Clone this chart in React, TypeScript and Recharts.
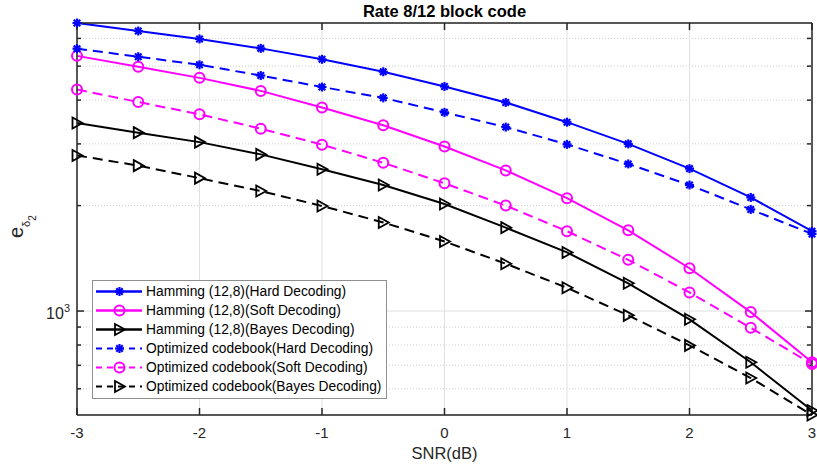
import React from 'react';
import { LineChart, Line, XAxis, YAxis, CartesianGrid, Legend, Label } from 'recharts';

// SNR grid (dB) and error values
const SNR = [-3, -2.5, -2, -1.5, -1, -0.5, 0, 0.5, 1, 1.5, 2, 2.5, 3];
const HAMMING_HARD = [6640, 6300, 5980, 5620, 5230, 4820, 4375, 3940, 3460, 3000, 2550, 2110, 1690];
const HAMMING_SOFT = [5350, 4980, 4630, 4250, 3810, 3390, 2950, 2520, 2100, 1700, 1325, 993, 714];
const HAMMING_BAYES = [3440, 3230, 3035, 2800, 2540, 2290, 2020, 1730, 1470, 1200, 947, 714, 520];
const OPT_HARD = [5610, 5320, 5045, 4700, 4360, 4060, 3690, 3350, 2990, 2630, 2290, 1950, 1660];
const OPT_SOFT = [4290, 3950, 3645, 3315, 2985, 2650, 2315, 2000, 1690, 1400, 1130, 896, 706];
const OPT_BAYES = [2780, 2600, 2395, 2200, 1995, 1790, 1580, 1365, 1165, 972, 798, 644, 505];

const X_TICKS = [-3, -2, -1, 0, 1, 2, 3];
const Y_MAJOR = [1000];
const Y_MINOR = [600, 700, 800, 900, 2000, 3000, 4000, 5000, 6000];
const Y_ALL = [600, 700, 800, 900, 1000, 2000, 3000, 4000, 5000, 6000];
const Y_DOMAIN = [505, 6640];

const AX = '#262626';
const FONT = '"Liberation Sans", Arial, Helvetica, sans-serif';

type MarkerKind = 'star' | 'circle' | 'tri';

const SERIES: { key: string; name: string; color: string; marker: MarkerKind; dashed: boolean; values: number[] }[] = [
  { key: 'hHard', name: 'Hamming (12,8)(Hard Decoding)', color: '#0000ff', marker: 'star', dashed: false, values: HAMMING_HARD },
  { key: 'hSoft', name: 'Hamming (12,8)(Soft Decoding)', color: '#ff00ff', marker: 'circle', dashed: false, values: HAMMING_SOFT },
  { key: 'hBayes', name: 'Hamming (12,8)(Bayes Decoding)', color: '#000000', marker: 'tri', dashed: false, values: HAMMING_BAYES },
  { key: 'oHard', name: 'Optimized codebook(Hard Decoding)', color: '#0000ff', marker: 'star', dashed: true, values: OPT_HARD },
  { key: 'oSoft', name: 'Optimized codebook(Soft Decoding)', color: '#ff00ff', marker: 'circle', dashed: true, values: OPT_SOFT },
  { key: 'oBayes', name: 'Optimized codebook(Bayes Decoding)', color: '#000000', marker: 'tri', dashed: true, values: OPT_BAYES },
];

const data = SNR.map((snr, i) => {
  const row: Record<string, number> = { snr };
  SERIES.forEach((s) => {
    row[s.key] = s.values[i];
  });
  return row;
});

function Marker({ kind, cx, cy, color }: { kind: MarkerKind; cx: number; cy: number; color: string }) {
  if (cx == null || cy == null) return null;
  if (kind === 'circle') {
    return <circle cx={cx} cy={cy} r={5} fill="none" stroke={color} strokeWidth={2} />;
  }
  if (kind === 'tri') {
    const pts = `${cx - 4.5},${cy - 5.5} ${cx + 5.5},${cy} ${cx - 4.5},${cy + 5.5}`;
    return <polygon points={pts} fill="none" stroke={color} strokeWidth={1.8} strokeLinejoin="miter" />;
  }
  const r = 4.5;
  const d = r * 0.72;
  return (
    <g stroke={color} strokeWidth={2.2} strokeLinecap="butt">
      <line x1={cx - r} y1={cy} x2={cx + r} y2={cy} />
      <line x1={cx} y1={cy - r} x2={cx} y2={cy + r} />
      <line x1={cx - d} y1={cy - d} x2={cx + d} y2={cy + d} />
      <line x1={cx - d} y1={cy + d} x2={cx + d} y2={cy - d} />
    </g>
  );
}

// left axis: inward tick marks (major longer than minor) plus the 10^3 label
function PowTick(props: any) {
  const { x, y, payload } = props;
  const major = Y_MAJOR.includes(payload.value);
  const ax = x + 7;
  return (
    <g>
      <line x1={ax} y1={y} x2={ax + (major ? 7 : 4)} y2={y} stroke={AX} strokeWidth={1.5} />
      {major && (
        <text x={x} y={y} dy={7.5} textAnchor="end" fontSize={16} fill={AX} fontFamily={FONT}>
          10
          <tspan dy={-7} fontSize={11}>3</tspan>
        </text>
      )}
    </g>
  );
}

function YTitle() {
  return (
    <text transform="translate(23,238) rotate(-90)" textAnchor="start" fill={AX} fontFamily={FONT} fontSize={20}>
      e
      <tspan dy={7} fontSize={11}>δ</tspan>
      <tspan dy={6} fontSize={10}>2</tspan>
    </text>
  );
}

function LegendBox() {
  return (
    <div
      style={{
        border: '1px solid #8f8f8f',
        background: '#fff',
        width: 293,
        height: 116,
        boxSizing: 'content-box',
        fontFamily: FONT,
        fontSize: 13.8,
        color: '#000',
        paddingTop: 1,
      }}
    >
      {SERIES.map((s) => (
        <div key={s.key} style={{ display: 'flex', alignItems: 'center', height: 19 }}>
          <svg width={53} height={19} style={{ display: 'block' }}>
            <line x1={3} y1={9.5} x2={49} y2={9.5} stroke={s.color} strokeWidth={s.dashed ? 2 : 2.6} strokeDasharray={s.dashed ? '6 5' : undefined} />
            <Marker kind={s.marker} cx={26.5} cy={9.5} color={s.color} />
          </svg>
          <span style={{ whiteSpace: 'nowrap' }}>{s.name}</span>
        </div>
      ))}
    </div>
  );
}

const hidden = () => null;
const tickStroke = { stroke: AX, strokeWidth: 1.5 };

export default function App() {
  return (
    <div style={{ position: 'absolute', left: 0, top: 0, width: 817, height: 469, background: '#fff' }}>
      <LineChart width={817} height={469} data={data} margin={{ top: 23, right: 5, bottom: 0, left: 0 }}>
        <CartesianGrid xAxisId="x" yAxisId="yMinR" vertical={false} stroke="#cdcdcd" strokeDasharray="1 2" />
        <CartesianGrid xAxisId="x" yAxisId="yMajR" stroke="#e0e0e0" />

        <XAxis xAxisId="x" dataKey="snr" type="number" domain={[-3, 3]} ticks={X_TICKS} interval={0} height={54} tickLine={false} tickSize={0} tickMargin={12} axisLine={tickStroke} tick={{ fill: AX, fontSize: 15, fontFamily: FONT }}>
          <Label value="SNR(dB)" position="insideBottom" offset={10} fill={AX} fontSize={16.5} fontFamily={FONT} />
        </XAxis>
        {/* inward tick marks along the bottom and the top edge of the box */}
        <XAxis xAxisId="xb" dataKey="snr" type="number" orientation="bottom" mirror height={1} domain={[-3, 3]} allowDataOverflow ticks={X_TICKS} interval={0} tick={hidden} axisLine={false} tickSize={7} tickLine={tickStroke} />
        <XAxis xAxisId="xt" dataKey="snr" type="number" orientation="top" mirror height={1} domain={[-3, 3]} allowDataOverflow ticks={X_TICKS} interval={0} tick={hidden} axisLine={tickStroke} tickSize={7} tickLine={tickStroke}>
          <Label value="Rate 8/12 block code" position="top" offset={6} fill="#000" fontSize={16.5} fontWeight="bold" fontFamily={FONT} />
        </XAxis>

        <YAxis yAxisId="y" type="number" scale="log" domain={Y_DOMAIN} ticks={Y_ALL} interval={0} width={77} tickLine={false} tickSize={0} tickMargin={7} axisLine={tickStroke} tick={<PowTick />}>
          <Label content={<YTitle />} />
        </YAxis>
        <YAxis yAxisId="yMajR" type="number" scale="log" domain={Y_DOMAIN} allowDataOverflow ticks={Y_MAJOR} interval={0} orientation="right" mirror width={1} tick={hidden} axisLine={tickStroke} tickSize={7} tickLine={tickStroke} />
        <YAxis yAxisId="yMinR" type="number" scale="log" domain={Y_DOMAIN} allowDataOverflow ticks={Y_MINOR} interval={0} orientation="right" mirror width={1} tick={hidden} axisLine={false} tickSize={4} tickLine={tickStroke} />

        {SERIES.map((s) => (
          <Line
            key={s.key}
            xAxisId="x"
            yAxisId="y"
            type="linear"
            dataKey={s.key}
            name={s.name}
            stroke={s.color}
            strokeWidth={2}
            strokeDasharray={s.dashed ? '10 6' : undefined}
            dot={(p: any) => <Marker key={`${s.key}-${p.index}`} kind={s.marker} cx={p.cx} cy={p.cy} color={s.color} />}
            activeDot={false}
            isAnimationActive={false}
          />
        ))}

        <Legend layout="vertical" align="center" verticalAlign="middle" wrapperStyle={{ left: 92, top: 280, width: 295, height: 118 }} content={<LegendBox />} />
      </LineChart>
    </div>
  );
}
